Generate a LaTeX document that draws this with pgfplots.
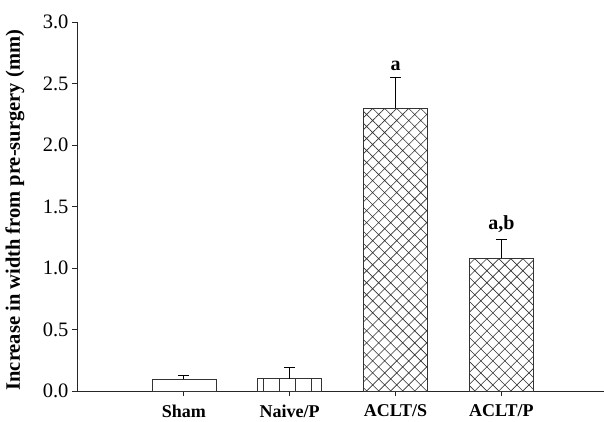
\documentclass[border=0pt]{standalone}
\usepackage{pgfplots}
\pgfplotsset{compat=1.18}
\usepackage{fontspec}
\setmainfont{Liberation Serif}
\usetikzlibrary{patterns.meta}
\begin{document}
\begin{tikzpicture}
\begin{axis}[
  at={(0,0)}, anchor=south west,
  scale only axis,
  width=527pt, height=369pt,
  xmin=-0.01, xmax=4.97,
  ymin=0, ymax=3.0,
  axis x line*=bottom,
  axis y line*=left,
  axis line style={line width=0.9pt, black!85, -},
  xtick pos=bottom, ytick pos=left,
  tickwidth=5pt,
  xtick align=outside, ytick align=outside,
  every tick/.style={black!85, line width=0.9pt},
  xtick={1,2,3,4},
  xticklabels={Sham,Naive/P,ACLT/S,ACLT/P},
  x tick label style={font=\fontsize{18}{20}\selectfont\bfseries, yshift=-5pt},
  ytick={0,0.5,1,1.5,2,2.5,3},
  y tick label style={font=\fontsize{20.5}{23}\selectfont, /pgf/number format/fixed, /pgf/number format/fixed zerofill, /pgf/number format/precision=1},
  /pgf/number format/assume math mode=true,
  ylabel={Increase in width from pre-surgery (mm)},
  y label style={font=\fontsize{20.5}{23}\selectfont\bfseries, at={(axis description cs:-0.118,0.49)}, anchor=center},
  clip=false,
  error bars/y dir=plus,
  error bars/y explicit,
  error bars/error bar style={line width=0.9pt, black},
  error bars/error mark options={rotate=90, mark size=5.5pt, line width=0.9pt, black},
]
\addplot[ybar, bar width=64pt, draw=black!80, line width=0.7pt, fill=white]
  coordinates {(1,0.095) +- (0,0.035)};
\addplot[ybar, bar width=64pt, draw=black!80, line width=0.7pt, fill=white,
  postaction={pattern={Lines[angle=90,distance=16pt,line width=0.7pt,xshift=7pt]}, pattern color=black!80}]
  coordinates {(2,0.10) +- (0,0.09)};
\addplot[ybar, bar width=64pt, draw=black!80, line width=0.7pt, fill=white,
  postaction={pattern={Hatch[angle=45,distance=8.5pt,line width=0.6pt]}, pattern color=black!80}]
  coordinates {(3,2.30) +- (0,0.25)};
\addplot[ybar, bar width=64pt, draw=black!80, line width=0.7pt, fill=white,
  postaction={pattern={Hatch[angle=45,distance=8.5pt,line width=0.6pt]}, pattern color=black!80}]
  coordinates {(4,1.08) +- (0,0.155)};
\node[font=\fontsize{20}{22}\selectfont\bfseries, above, inner sep=6pt] at (axis cs:3,2.55) {a};
\node[font=\fontsize{20}{22}\selectfont\bfseries, above, inner sep=6pt] at (axis cs:4,1.235) {a,b};
\end{axis}
\pgfresetboundingbox
\path[use as bounding box] (-77pt,-30pt) rectangle (527pt,391pt);
\end{tikzpicture}
\end{document}
